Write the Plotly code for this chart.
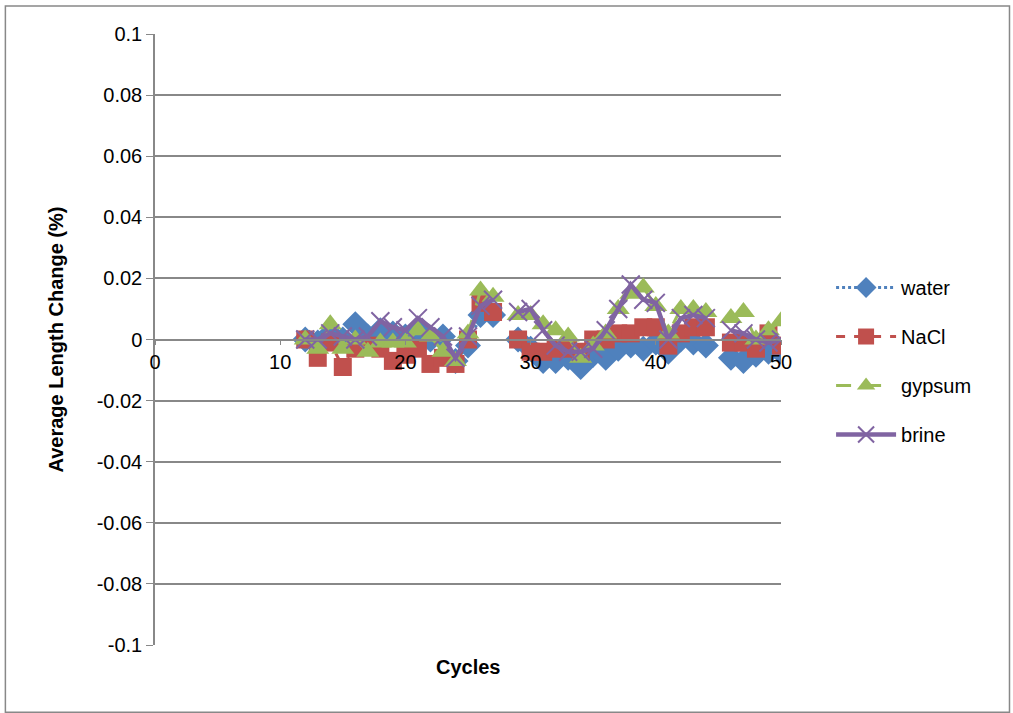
import plotly.graph_objects as go

cycles = list(range(12, 51))

water = [0.0, -0.001, 0.002, 0.0, 0.005, 0.001, 0.003, 0.002, 0.001, 0.003, 0.0, 0.001, -0.007, -0.002,
         0.008, 0.008, None, 0.0, -0.003, -0.007, -0.007, -0.006, -0.009, -0.005, -0.006, -0.003, -0.002,
         -0.003, -0.001, -0.004, 0.0, -0.001, -0.002, None, -0.006, -0.007, -0.005, -0.004, -0.004]
nacl = [0.0, -0.006, -0.001, -0.009, -0.003, -0.002, -0.003, -0.007, -0.005, -0.003, -0.008, -0.006, -0.008, 0.0,
        0.012, 0.009, None, 0.0, -0.004, -0.004, -0.003, -0.003, -0.004, 0.0, 0.0, 0.002, 0.002,
        0.004, 0.004, -0.002, 0.002, 0.004, 0.004, None, -0.001, -0.001, -0.003, 0.002, -0.002]
gypsum = [0.0, -0.003, 0.005, -0.003, 0.0, -0.004, -0.001, -0.001, -0.001, 0.003, 0.001, -0.004, -0.007, 0.002,
          0.016, 0.014, None, 0.008, 0.008, 0.005, 0.003, 0.001, -0.006, -0.002, 0.002, 0.01, 0.015,
          0.017, 0.011, 0.002, 0.01, 0.01, 0.009, None, 0.007, 0.009, 0.0, 0.003, 0.006]
brine = [0.0, 0.0, 0.002, 0.001, 0.0, 0.001, 0.006, 0.004, 0.003, 0.007, 0.004, 0.001, -0.006, 0.001,
         0.011, 0.013, None, 0.009, 0.01, 0.003, -0.002, -0.004, -0.004, -0.003, 0.003, 0.01, 0.018,
         0.013, 0.012, 0.0, 0.007, 0.008, 0.007, None, 0.003, 0.002, 0.0, -0.001, 0.0]

x_ticks = [0, 10, 20, 30, 40, 50]
y_ticks = [0.1, 0.08, 0.06, 0.04, 0.02, 0, -0.02, -0.04, -0.06, -0.08, -0.1]
y_labels = ["0.1", "0.08", "0.06", "0.04", "0.02", "0", "-0.02", "-0.04", "-0.06", "-0.08", "-0.1"]

FONT = "Liberation Sans"
fig = go.Figure()

series = [
    ("water", water, "#4F81BD", "dot", "diamond", 20),
    ("NaCl", nacl, "#C0504D", "dash", "square", 18),
    ("gypsum", gypsum, "#9BBB59", "longdash", "triangle-up", 20),
]
for name, vals, col, dash, sym, sz in series:
    fig.add_trace(go.Scatter(
        x=cycles, y=vals, name=name, mode="lines+markers",
        line=dict(color=col, width=3, dash=dash),
        marker=dict(symbol=sym, size=sz, color=col),
        legendgroup=name, connectgaps=False,
    ))

fig.add_trace(go.Scatter(
    x=cycles, y=brine, name="brine", mode="lines+markers",
    line=dict(color="#8064A2", width=4.5),
    marker=dict(symbol="x-thin", size=18, color="#8064A2", line=dict(color="#8064A2", width=2)),
    legendgroup="brine", connectgaps=False,
))

fig.update_layout(
    width=1013, height=713,
    margin=dict(l=155, r=232, t=34, b=68),
    paper_bgcolor="white", plot_bgcolor="white",
    font=dict(family=FONT, size=20, color="black"),
    showlegend=True,
    legend=dict(x=1.08, y=0.617, xanchor="left", yanchor="top",
                font=dict(size=20), tracegroupgap=20, itemwidth=60,
                bgcolor="rgba(0,0,0,0)"),
    xaxis=dict(
        range=[0, 50], tickvals=x_ticks, ticktext=[str(t) for t in x_ticks],
        showgrid=False, zeroline=False,
        showline=True, linecolor="#888888", linewidth=1.5,
        anchor="free", position=0.5,
        ticks="outside", ticklen=5, tickcolor="#888888",
        tickfont=dict(size=20),
    ),
    yaxis=dict(
        range=[-0.1, 0.1], tickvals=y_ticks, ticktext=y_labels,
        showgrid=True, gridcolor="#888888", gridwidth=1.5,
        zeroline=False,
        showline=True, linecolor="#888888", linewidth=1.5,
        ticks="outside", ticklen=7, tickcolor="#888888",
        tickfont=dict(size=20),
        title=dict(text="<b>Average Length Change (%)</b>", font=dict(size=20), standoff=28),
    ),
    annotations=[dict(text="<b>Cycles</b>", xref="paper", yref="paper", x=0.5, y=-0.036,
                      xanchor="center", yanchor="middle", showarrow=False, font=dict(size=20))],
    shapes=[dict(type="rect", xref="paper", yref="paper",
                 x0=-0.239, x1=1.365, y0=-0.11, y1=1.046,
                 line=dict(color="#888888", width=1.5), fillcolor="rgba(0,0,0,0)", layer="below")],
)

fig.write_html("out.html")
